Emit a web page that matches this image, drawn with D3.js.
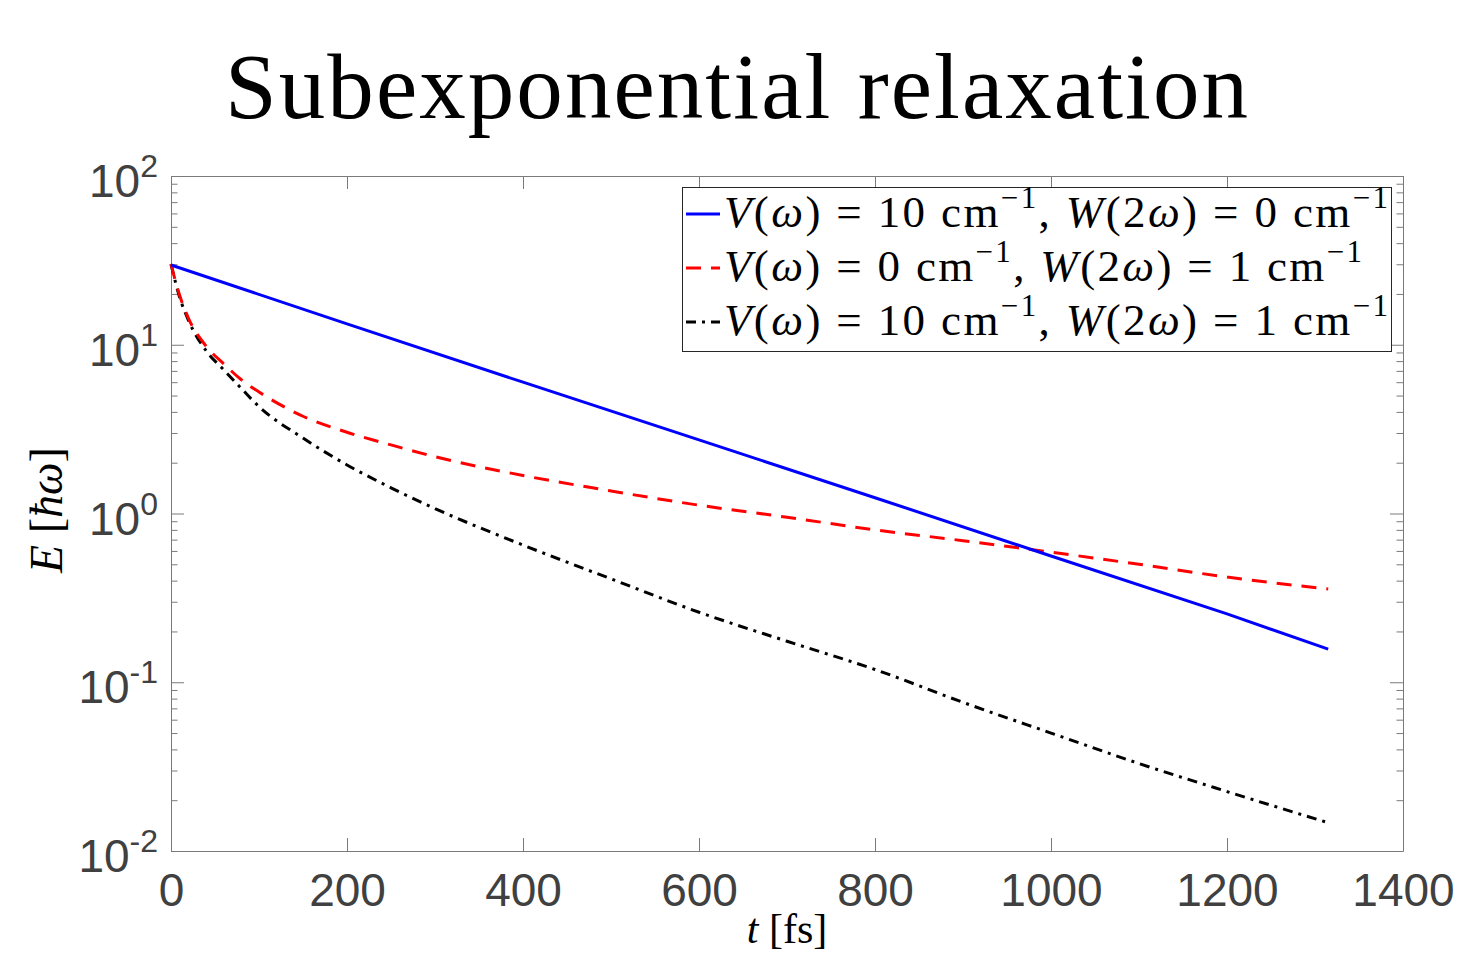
<!DOCTYPE html>
<html lang="en">
<head>
<meta charset="UTF-8">
<title>Subexponential relaxation</title>
<script src="https://d3js.org/d3.v7.min.js"></script>
<style>
body { margin: 0; background: #fff; }
svg { display: block; }
.tick text { font-family: "Liberation Sans", Arial, sans-serif; fill: #404040; }
.axis path, .axis line { stroke: #7a7a7a; }
</style>
</head>
<body>
<script>
// time samples [fs] and energies
const tBlue = [0, 200, 400, 600, 800, 1000, 1200, 1315]
const eBlue = [29.7, 13.3, 6.0, 2.73, 1.24, 0.56, 0.254, 0.157]

const tCurve = [0, 10, 20, 40, 60, 80, 100, 150, 200, 250, 300, 400, 500, 600, 700, 800, 900, 1000, 1100, 1200, 1315]
const eRed = [30, 19.5, 14.3, 9.8, 7.7, 6.2, 5.25, 3.77, 3.03, 2.55, 2.17, 1.68, 1.36, 1.12, 0.95, 0.80, 0.69, 0.59, 0.50, 0.42, 0.357]
const eBlack = [30, 19, 13.9, 9.2, 7.1, 5.5, 4.3, 2.8, 1.94, 1.42, 1.07, 0.65, 0.41, 0.26, 0.175, 0.119, 0.076, 0.050, 0.033, 0.0225, 0.0147]

const xTicks = [0, 200, 400, 600, 800, 1000, 1200, 1400]
const yTicks = [1e-2, 1e-1, 1e0, 1e1, 1e2]
const yExp = ["-2", "-1", "0", "1", "2"]

const legendRows = [
  {v: "10", w: "0", color: "#0000ff", dash: null, width: 664},
  {v: "0", w: "1", color: "#ff0000", dash: "15,10", width: 638},
  {v: "10", w: "1", color: "#000000", dash: "10,6,3,6", width: 664}
]

const W = 1461, H = 955
const svg = d3.select("body").append("svg").attr("width", W).attr("height", H)

const pLeft = 171, pRight = 1403, pTop = 176, pBottom = 851
const x = d3.scaleLinear().domain([0, 1400]).range([pLeft, pRight])
const y = d3.scaleLog().domain([1e-2, 1e2]).range([pBottom, pTop])

// title
svg.append("text")
  .attr("x", 225).attr("y", 118)
  .style("font-family", "'Liberation Serif', serif")
  .style("font-size", "93px")
  .attr("textLength", 1023).attr("lengthAdjust", "spacing")
  .text("Subexponential relaxation")

// minor ticks on the log axis
let minor = []
for (let k = -2; k < 2; k++) for (let m = 2; m < 10; m++) minor.push(m * Math.pow(10, k))

const g = svg.append("g").attr("class", "axis")

g.append("g").attr("transform", `translate(0,${pBottom})`)
  .call(d3.axisBottom(x).tickValues(xTicks).tickSize(-13).tickSizeOuter(0).tickPadding(22).tickFormat(d3.format("d")))
  .call(s => s.selectAll("text").style("font-size", "46px"))
g.append("g").attr("transform", `translate(0,${pTop})`)
  .call(d3.axisTop(x).tickValues(xTicks).tickSize(-13).tickSizeOuter(0).tickFormat(""))

const yL = g.append("g").attr("transform", `translate(${pLeft},0)`)
yL.call(d3.axisLeft(y).tickValues(yTicks).tickSize(-13).tickSizeOuter(0).tickFormat(""))
yL.append("g").call(d3.axisLeft(y).tickValues(minor).tickSize(-6.5).tickSizeOuter(0).tickFormat(""))
  .select(".domain").remove()

const yR = g.append("g").attr("transform", `translate(${pRight},0)`)
yR.call(d3.axisRight(y).tickValues(yTicks).tickSize(-13).tickSizeOuter(0).tickFormat(""))
yR.append("g").call(d3.axisRight(y).tickValues(minor).tickSize(-6.5).tickSizeOuter(0).tickFormat(""))
  .select(".domain").remove()

g.selectAll("line, path").attr("stroke", "#7a7a7a")

// y labels 10^k
const yLab = svg.append("g")
yTicks.forEach((v, i) => {
  const t = yLab.append("text")
    .attr("x", 158).attr("y", y(v) + 21)
    .attr("text-anchor", "end")
    .style("font-family", "'Liberation Sans', Arial, sans-serif")
    .style("fill", "#404040")
  t.append("tspan").style("font-size", "46px").text("10")
  t.append("tspan").style("font-size", "32px").attr("dy", -20).text(yExp[i])
})

// axis labels
svg.append("text")
  .attr("x", 787).attr("y", 943)
  .attr("text-anchor", "middle")
  .style("font-family", "'Liberation Serif', serif")
  .style("font-size", "42px")
  .call(t => {
    t.append("tspan").style("font-style", "italic").text("t")
    t.append("tspan").text(" [fs]")
  })

svg.append("text")
  .attr("transform", "translate(62,510) rotate(-90)")
  .attr("text-anchor", "middle")
  .style("font-family", "'Liberation Serif', serif")
  .style("font-size", "46px")
  .call(t => {
    t.append("tspan").style("font-style", "italic").text("E")
    t.append("tspan").text(" [")
    t.append("tspan").style("font-style", "italic").text("ħω")
    t.append("tspan").text("]")
  })

// curves
const line = d3.line().x(d => x(d[0])).y(d => y(d[1])).curve(d3.curveMonotoneX)
const plot = svg.append("g")
plot.append("path").datum(d3.zip(tCurve, eBlack))
  .attr("d", line).attr("fill", "none").attr("stroke", "#000").attr("stroke-width", 3)
  .attr("stroke-dasharray", "10,6,3,6")
plot.append("path").datum(d3.zip(tCurve, eRed))
  .attr("d", line).attr("fill", "none").attr("stroke", "#ff0000").attr("stroke-width", 3)
  .attr("stroke-dasharray", "15,10")
plot.append("path").datum(d3.zip(tBlue, eBlue))
  .attr("d", d3.line().x(d => x(d[0])).y(d => y(d[1]))).attr("fill", "none")
  .attr("stroke", "#0000ff").attr("stroke-width", 3)

// legend
const lg = svg.append("g")
lg.append("rect").attr("x", 682.5).attr("y", 187.5).attr("width", 709).attr("height", 164)
  .attr("fill", "#fff").attr("stroke", "#262626").attr("stroke-width", 1)

legendRows.forEach((r, i) => {
  const cy = 214 + i * 54
  lg.append("line").attr("x1", 686).attr("x2", 720).attr("y1", cy).attr("y2", cy)
    .attr("stroke", r.color).attr("stroke-width", 3)
    .attr("stroke-dasharray", r.dash)
  const t = lg.append("text").attr("x", 724).attr("y", cy + 13)
    .style("font-family", "'Liberation Serif', serif").style("font-size", "45px")
  const seg = (s, it) => t.append("tspan").style("font-style", it ? "italic" : "normal").text(s)
  seg("V", true); seg("(", false); seg("ω", true); seg(") = " + r.v + " cm", false)
  t.append("tspan").attr("dy", -19).style("font-size", "31px").text("−1")
  t.append("tspan").attr("dy", 19).text(", ")
  seg("W", true); seg("(2", false); seg("ω", true); seg(") = " + r.w + " cm", false)
  t.append("tspan").attr("dy", -19).style("font-size", "31px").text("−1")
  t.attr("textLength", r.width).attr("lengthAdjust", "spacing")
})
</script>
</body>
</html>
